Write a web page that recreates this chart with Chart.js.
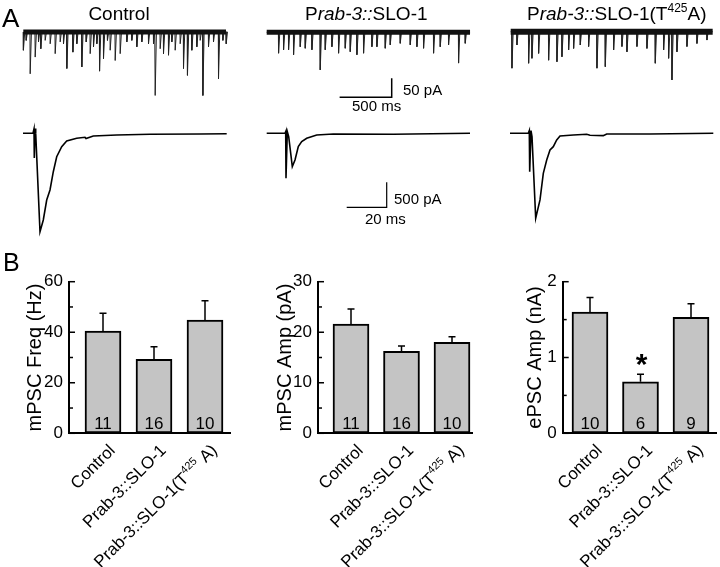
<!DOCTYPE html>
<html><head><meta charset="utf-8">
<script src="https://cdn.jsdelivr.net/npm/chart.js@4"></script>
<style>
html,body{margin:0;padding:0;background:#fff;}
body{width:720px;height:567px;position:relative;overflow:hidden;font-family:"Liberation Sans",Arial,sans-serif;color:#000;}
canvas{position:absolute;}
.t{position:absolute;white-space:nowrap;line-height:1;color:#000;}
.sup{font-size:12px;position:relative;top:-8px;}
</style></head><body>

<canvas id="miniCtrl"></canvas><canvas id="miniSlo"></canvas><canvas id="miniMut"></canvas>
<canvas id="evCtrl"></canvas><canvas id="evSlo"></canvas><canvas id="evMut"></canvas>
<canvas id="bar1"></canvas><canvas id="bar2"></canvas><canvas id="bar3"></canvas>

<div class="t" style="left:2px;top:5px;font-size:26px">A</div>
<div class="t" style="left:3px;top:250px;font-size:25px">B</div>
<div class="t" style="left:59px;width:120px;text-align:center;top:3.9px;font-size:19px">Control</div>
<div class="t" style="left:305px;top:3.9px;font-size:19px">P<i>rab-3::</i>SLO-1</div>
<div class="t" style="left:527px;top:3.9px;font-size:19px">P<i>rab-3::</i>SLO-1(T<span class="sup">425</span>A)</div>
<div class="t" style="left:403px;top:82.3px;font-size:15px">50 pA</div>
<div class="t" style="left:352px;top:98.3px;font-size:15px">500 ms</div>
<div class="t" style="left:394px;top:190.6px;font-size:15px">500 pA</div>
<div class="t" style="left:365px;top:210.6px;font-size:15px">20 ms</div>

<script>
// ---------------- DATA ----------------
const categories = ['Control', 'Prab-3::SLO-1', 'Prab-3::SLO-1(T425A)'];

const freqMean = [40.5, 29.3, 44.8];   // mPSC Freq (Hz)
const freqErr  = [7.0, 5.0, 7.7];
const freqN    = [11, 16, 10];

const ampMean  = [21.6, 16.2, 18.0];   // mPSC Amp (pA)
const ampErr   = [3.0, 1.1, 1.1];
const ampN     = [11, 16, 10];

const epscMean = [1.60, 0.68, 1.53];   // ePSC Amp (nA)
const epscErr  = [0.19, 0.10, 0.18];
const epscN    = [10, 6, 9];
const epscSig  = [false, true, false];

const freqTicks = [0, 20, 40, 60];
const ampTicks  = [0, 10, 20, 30];
const epscTicks = [0, 1, 2];

// mini events: time (ms) and amplitude (pA, downward)
const ctrlMiniT   = [0,26,64,112,144,166,208,256,304,352,384,416,474,512,560,602,640,672,704,730,768,806,832,880,928,992,1040,1088,1136,1200,1248,1264,1312,1344,1392,1424,1456,1504,1536,1574,1616,1664,1696,1722,1776,1824,1872,1914,1946];
const ctrlMiniAmp = [48,22,110,66,26,44,22,31,57,26,31,96,53,31,92,26,57,39,31,103,70,22,48,75,57,26,22,39,26,31,31,167,44,57,61,26,48,31,96,114,48,39,22,167,39,26,123,22,31];

const sloMiniT    = [112,160,208,256,320,368,432,512,560,624,688,752,800,864,928,1008,1056,1136,1184,1280,1376,1440,1504,1600,1664,1744,1840,1904];
const sloMiniAmp  = [55,46,46,59,38,42,46,99,46,38,55,42,51,59,55,38,38,42,33,29,33,38,42,55,38,33,81,29];

const mutMiniT    = [10,58,170,202,266,362,442,490,554,602,666,746,826,906,986,1066,1114,1210,1306,1386,1466,1514,1546,1594,1690,1786,1882];
const mutMiniAmp  = [96,35,83,70,57,75,79,66,48,44,35,39,96,92,48,39,53,39,44,83,48,70,127,53,39,31,22];

const miniDuration = [1946, 1952, 1939];

// evoked traces: time (ms), current (pA)
const ctrlEvT = [0,5,5.5,5.65,6,6.35,8.5,10.15,11.85,13.5,15.15,16.85,19.35,21.85,26.85,31,31.5,35.15,46.85,63.5,88.5,101.85];
const ctrlEvI = [0,0,86,-494,96,0,-1968,-1734,-1334,-1134,-768,-468,-268,-154,-100,-80,-104,-54,-34,-20,-14,-8];

const sloEvT  = [0,9.15,9.5,9.65,10.3,11,12.8,14.15,15.8,17.5,20,25,33.3,63.3,101.65];
const sloEvI  = [0,0,33,-900,33,-67,-667,-533,-267,-167,-100,-33,-13,-20,0];

const mutEvT  = [0,9.15,9.65,9.85,10.5,11,12.85,15,16.65,18.35,20,21.65,23.35,25,31.65,38.35,40,46.65,48.35,70,101.65];
const mutEvI  = [0,0,53,-767,53,-67,-1700,-1333,-800,-533,-333,-267,-133,-53,-33,-20,-40,-47,-13,-13,0];

const miniScaleBar   = {ms: 500, pA: 50};
const evokedScaleBar = {ms: 20, pA: 500};

// ---------------- RENDERING ----------------
const FONT = '"Liberation Sans", Arial, sans-serif';
Chart.defaults.font.family = FONT;
Chart.defaults.color = '#000';
Chart.defaults.animation = false;

function place(id, L, T, W, H) {
  const cv = document.getElementById(id);
  cv.width = W; cv.height = H;
  cv.style.left = L + 'px'; cv.style.top = T + 'px';
  cv.style.width = W + 'px'; cv.style.height = H + 'px';
  return cv;
}

function pts(xs, ys) { return xs.map((x, i) => ({x: x, y: ys[i]})); }

function miniPoints(times, amps, tEnd) {
  const p = [{x: 0, y: 0}];
  times.forEach((t, i) => { p.push({x: t, y: 0}, {x: t + 2, y: -amps[i]}, {x: t + 14, y: 0}); });
  p.push({x: tEnd, y: 0});
  return p;
}

// box: canvas rect; origin: pixel of (0,0); ppx, ppy: pixels per unit
function makeTrace(id, box, origin, ppx, ppy, datasets) {
  const cv = place(id, box.L, box.T, box.W, box.H);
  const xmin = (box.L - origin.x) / ppx, xmax = (box.L + box.W - origin.x) / ppx;
  const ymax = (origin.y - box.T) / ppy, ymin = -(box.T + box.H - origin.y) / ppy;
  new Chart(cv, {
    type: 'scatter',
    data: {datasets: datasets.map(d => ({data: d.data, showLine: true, borderColor: d.color || '#000',
      borderWidth: d.w, pointRadius: 0, fill: false, tension: 0, borderJoinStyle: 'miter'}))},
    options: {responsive: false, animation: false, events: [],
      layout: {padding: 0},
      plugins: {legend: {display: false}, tooltip: {enabled: false}},
      scales: {x: {type: 'linear', display: false, min: xmin, max: xmax},
               y: {type: 'linear', display: false, min: ymin, max: ymax}}}
  });
}

const MINI_PPX = 1 / 9.6, MINI_PPY = 19 / 50;
const EV_PPX = 2, EV_PPY = 0.05;

makeTrace('miniCtrl', {L: 18, T: 18, W: 214, H: 88}, {x: 23.3, y: 32}, MINI_PPX, MINI_PPY, [
  {data: [{x: 0, y: 0}, {x: miniDuration[0], y: 0}], w: 5, color: '#111'},
  {data: miniPoints(ctrlMiniT, ctrlMiniAmp, miniDuration[0]), w: 1, color: '#222'}]);

makeTrace('miniSlo', {L: 262, T: 18, W: 215, H: 88}, {x: 266.7, y: 32.3}, MINI_PPX, MINI_PPY, [
  {data: [{x: 0, y: 0}, {x: miniDuration[1], y: 0}], w: 5, color: '#111'},
  {data: miniPoints(sloMiniT, sloMiniAmp, miniDuration[1]), w: 1, color: '#222'},
  {data: [{x: 1200 - miniScaleBar.ms, y: -171}, {x: 1200, y: -171}, {x: 1200, y: -171 + miniScaleBar.pA}], w: 1.5}]);

makeTrace('miniMut', {L: 505, T: 18, W: 213, H: 88}, {x: 510.7, y: 31.7}, MINI_PPX, MINI_PPY, [
  {data: [{x: 0, y: 0}, {x: miniDuration[2], y: 0}], w: 6, color: '#111'},
  {data: miniPoints(mutMiniT, mutMiniAmp, miniDuration[2]), w: 1, color: '#222'}]);

makeTrace('evCtrl', {L: 18, T: 118, W: 215, H: 124}, {x: 23, y: 133.3}, EV_PPX, EV_PPY, [
  {data: pts(ctrlEvT, ctrlEvI), w: 1.6}]);

makeTrace('evSlo', {L: 262, T: 118, W: 215, H: 112}, {x: 266.7, y: 133.3}, EV_PPX, EV_PPY, [
  {data: pts(sloEvT, sloEvI), w: 1.6},
  {data: [{x: 60 - evokedScaleBar.ms, y: -1480}, {x: 60, y: -1480}, {x: 60, y: -1480 + evokedScaleBar.pA}], w: 1.2}]);

makeTrace('evMut', {L: 505, T: 118, W: 215, H: 112}, {x: 510, y: 133.3}, EV_PPX, EV_PPY, [
  {data: pts(mutEvT, mutEvI), w: 1.6}]);

// ---------- bar charts ----------
const catRich = [
  [{t: 'Control'}],
  [{t: 'Prab-3::SLO-1'}],
  [{t: 'Prab-3::SLO-1(T'}, {t: '425', sup: true}, {t: ' A)'}]
];

function drawRich(ctx, segs, x, y, angle, size) {
  ctx.save();
  ctx.translate(x, y); ctx.rotate(angle);
  ctx.textAlign = 'left'; ctx.textBaseline = 'alphabetic'; ctx.fillStyle = '#000';
  let total = 0;
  const f = s => (s.it ? 'italic ' : '') + (s.sup ? Math.round(size * 0.65) : size) + 'px ' + FONT;
  segs.forEach(s => { ctx.font = f(s); s._w = ctx.measureText(s.t).width; total += s._w; });
  let cx = -total;
  segs.forEach(s => { ctx.font = f(s); ctx.fillText(s.t, cx, s.sup ? -size * 0.42 : 0); cx += s._w; });
  ctx.restore();
}

const barDeco = {
  id: 'barDeco',
  afterDraw(chart) {
    const o = chart.options.plugins.barDeco;
    const {ctx, chartArea} = chart;
    const xs = chart.scales.x, ys = chart.scales.y;
    ctx.save();
    ctx.strokeStyle = '#000'; ctx.fillStyle = '#000';
    // inward ticks
    ctx.lineWidth = 1.5;
    const ax = chartArea.left;
    o.ticks.forEach((v, i) => {
      const py = ys.getPixelForValue(v);
      ctx.beginPath(); ctx.moveTo(ax, py); ctx.lineTo(ax + 6, py); ctx.stroke();
      if (i < o.ticks.length - 1) {
        const pm = ys.getPixelForValue((v + o.ticks[i + 1]) / 2);
        ctx.beginPath(); ctx.moveTo(ax, pm); ctx.lineTo(ax + 4, pm); ctx.stroke();
      }
    });
    o.means.forEach((m, i) => {
      const px = xs.getPixelForValue(i + 1);
      const y0 = ys.getPixelForValue(m), y1 = ys.getPixelForValue(m + o.errs[i]);
      ctx.lineWidth = 1.5;
      ctx.beginPath(); ctx.moveTo(px, y0); ctx.lineTo(px, y1);
      ctx.moveTo(px - 3.5, y1); ctx.lineTo(px + 3.5, y1); ctx.stroke();
      ctx.font = '17px ' + FONT; ctx.textAlign = 'center'; ctx.textBaseline = 'alphabetic';
      ctx.fillText(String(o.ns[i]), px, ys.getPixelForValue(0) - 4);
      if (o.sig && o.sig[i]) {
        ctx.font = 'bold 30px ' + FONT;
        ctx.fillText('*', px + 1, y1);
      }
      drawRich(ctx, catRich[i].map(s => Object.assign({}, s)), px + 13, chartArea.bottom + 18, -Math.PI / 4, 17);
    });
    ctx.restore();
  }
};

function makeBar(id, box, area, yMax, step, ticks, means, errs, ns, sig, title, titlePad) {
  const cv = place(id, box.L, box.T, box.W, box.H);
  const left = area.x0 - box.L, right = area.x1 - box.L, top = 281.7 - box.T, bottom = 433.3 - box.T;
  const spacing = area.c[1] - area.c[0];
  const xmin = 1 - (area.c[0] - area.x0) / spacing;
  const xmax = xmin + (area.x1 - area.x0) / spacing;
  new Chart(cv, {
    type: 'bar',
    data: {labels: categories, datasets: [{
      data: means.map((m, i) => ({x: i + 1, y: m})),
      backgroundColor: '#c4c4c4', borderColor: '#000', borderWidth: 2, borderSkipped: false,
      barThickness: 36}]},
    options: {responsive: false, animation: false, events: [],
      layout: {padding: {left: 0, top: top, right: box.W - right, bottom: 0}},
      plugins: {legend: {display: false}, tooltip: {enabled: false},
        barDeco: {means, errs, ns, sig, ticks}},
      scales: {
        x: {type: 'linear', offset: false, min: xmin, max: xmax,
            ticks: {display: false}, grid: {offset: false, drawOnChartArea: false, drawTicks: false},
            border: {display: true, color: '#000', width: 2},
            afterFit: s => { s.height = box.H - bottom; }},
        y: {type: 'linear', min: 0, max: yMax,
            ticks: {stepSize: step, font: {size: 17}, color: '#000', padding: 6},
            grid: {drawOnChartArea: false, drawTicks: false},
            border: {display: true, color: '#000', width: 2},
            title: {display: true, text: title, font: {size: 20}, color: '#000', padding: {top: titlePad, bottom: 0}},
            afterFit: s => { s.width = left; }}
      }},
    plugins: [barDeco]
  });
}

makeBar('bar1', {L: 0, T: 265, W: 240, H: 302}, {x0: 69, x1: 230, c: [103, 154, 205]},
  60, 20, freqTicks, freqMean, freqErr, freqN, null, 'mPSC Freq (Hz)', 23);
makeBar('bar2', {L: 245, T: 265, W: 240, H: 302}, {x0: 318, x1: 472, c: [351, 401.5, 452]},
  30, 10, ampTicks, ampMean, ampErr, ampN, null, 'mPSC Amp (pA)', 28);
makeBar('bar3', {L: 490, T: 265, W: 230, H: 302}, {x0: 562.7, x1: 716.7, c: [590, 640.5, 691.5]},
  2, 1, epscTicks, epscMean, epscErr, epscN, epscSig, 'ePSC Amp (nA)', 33);
</script>
</body></html>
